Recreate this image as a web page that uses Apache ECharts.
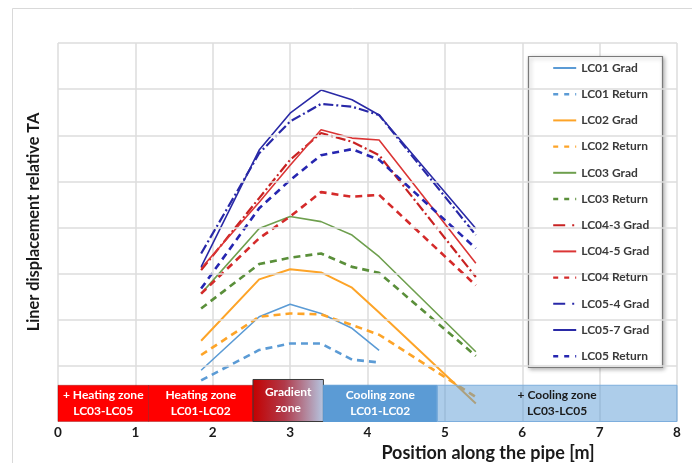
<!DOCTYPE html>
<html>
<head>
<meta charset="utf-8">
<script src="https://cdn.jsdelivr.net/npm/echarts@6/dist/echarts.min.js"></script>
<style>html,body{margin:0;padding:0;background:#fff}#c{width:692px;height:463px}</style>
</head>
<body>
<div id="c"></div>
<script>
// Positions along the pipe [m]
var positions = [1.85, 2.6, 3.0, 3.4, 3.8, 4.15, 5.4];
var xTicks = [0, 1, 2, 3, 4, 5, 6, 7, 8];

var lc01Grad   = [0.91, 2.07, 2.34, 2.14, 1.82, 1.34];
var lc01Return = [0.69, 1.35, 1.49, 1.49, 1.14, 1.08];
var lc02Grad   = [1.55, 2.88, 3.10, 3.03, 2.70, 2.16, 0.19];
var lc02Return = [1.24, 2.07, 2.14, 2.12, 1.89, 1.68, 0.33];
var lc03Grad   = [2.57, 3.98, 4.24, 4.13, 3.84, 3.37, 1.31];
var lc03Return = [2.25, 3.21, 3.35, 3.44, 3.15, 3.02, 1.22];
var lc043Grad  = [3.08, 4.64, 5.47, 6.05, 5.86, 5.57, 2.93];
var lc045Grad  = [3.12, 4.55, 5.35, 6.12, 5.94, 5.90, 3.23];
var lc04Return = [2.57, 3.77, 4.24, 4.77, 4.67, 4.71, 2.75];
var lc054Grad  = [3.44, 5.61, 6.30, 6.68, 6.62, 6.44, 3.84];
var lc057Grad  = [3.15, 5.68, 6.48, 6.98, 6.77, 6.44, 3.98];
var lc05Return = [2.68, 4.42, 5.03, 5.57, 5.70, 5.47, 3.55];

var seriesNames = ['LC01 Grad','LC01 Return','LC02 Grad','LC02 Return','LC03 Grad','LC03 Return',
                   'LC04-3 Grad','LC04-5 Grad','LC04 Return','LC05-4 Grad','LC05-7 Grad','LC05 Return'];

// Zones along the pipe
var zoneStarts = [0, 1.17, 2.52, 3.43, 4.90];
var zoneEnds   = [1.17, 2.52, 3.43, 4.90, 8.0];
var zoneLabels = ['+ Heating zone\nLC03-LC05', 'Heating zone\nLC01-LC02', 'Gradient\nzone',
                  'Cooling zone\nLC01-LC02', '+ Cooling zone\nLC03-LC05'];

var gridLevels = [1, 2, 3, 4, 5, 6, 7, 8];

function pts(vals) { return vals.map(function (v, i) { return [positions[i], v]; }); }

var dashDot = [10, 3, 2, 3];
var dashed = [7, 5];
var styles = [
  {c:'#5B9BD5', w:1.6, t:'solid'},
  {c:'#5B9BD5', w:2.6, t:dashed},
  {c:'#FDA428', w:2.0, t:'solid'},
  {c:'#FDA428', w:2.6, t:dashed},
  {c:'#6E9F4E', w:1.6, t:'solid'},
  {c:'#5A8F3A', w:2.6, t:dashed},
  {c:'#C82222', w:2.2, t:dashDot},
  {c:'#DB3535', w:1.6, t:'solid'},
  {c:'#D42A2A', w:2.6, t:dashed},
  {c:'#2828A8', w:2.2, t:dashDot},
  {c:'#2A2AA6', w:1.6, t:'solid'},
  {c:'#2626B0', w:2.6, t:dashed}
];
var legendDash = [null, [5, 6], null, [5, 6], null, [5, 6], [12, 7, 2, 7], null, [5, 6], [12, 7, 2, 7], null, [5, 6]];
var dataSets = [lc01Grad, lc01Return, lc02Grad, lc02Return, lc03Grad, lc03Return,
                lc043Grad, lc045Grad, lc04Return, lc054Grad, lc057Grad, lc05Return];

var series = [];
series.push({
  type: 'line', data: [], z: 1, silent: true,
  markLine: {
    silent: true, symbol: 'none', label: {show: false},
    lineStyle: {color: '#DCDCDC', width: 1.5, type: 'solid'},
    data: gridLevels.map(function (g) { return {yAxis: g}; })
  }
});
dataSets.forEach(function (d, i) {
  series.push({
    name: seriesNames[i], type: 'line', data: pts(d), symbol: 'none', z: 2,
    lineStyle: {color: styles[i].c, width: styles[i].w, type: styles[i].t},
    itemStyle: {color: styles[i].c}
  });
});

var zoneData = zoneStarts.map(function (s, i) { return [s, zoneEnds[i], i]; });
series.push({
  type: 'custom', z: 5, silent: true,
  data: zoneData,
  renderItem: function (params, api) {
    var i = api.value(2);
    var isGrad = (i === 2);
    var top = isGrad ? 0.71 : 0.585;
    var p0 = api.coord([api.value(0), top]);
    var p1 = api.coord([api.value(1), -0.2]);
    var fill, stroke, lw = 1, txt = '#fff';
    if (i === 0 || i === 1) { fill = '#FF0000'; stroke = 'rgba(120,0,0,0.35)'; }
    else if (i === 2) {
      fill = new echarts.graphic.LinearGradient(0, 0, 1, 0, [
        {offset: 0, color: '#C40000'}, {offset: 0.45, color: '#B03A4A'}, {offset: 1, color: '#B5C7E2'}]);
      stroke = '#3A3A3A';
    }
    else if (i === 3) { fill = '#5B9BD5'; stroke = '#5B9BD5'; }
    else { fill = 'rgba(91,155,213,0.5)'; stroke = '#7DAEDD'; txt = '#1a1a1a'; }
    var x = p0[0], y = p0[1], w = p1[0] - p0[0], h = p1[1] - p0[1];
    return {
      type: 'group',
      children: [
        {type: 'rect', shape: {x: x, y: y, width: w, height: h}, style: {fill: fill, stroke: stroke, lineWidth: lw}},
        {type: 'text', x: x + w / 2, y: y + h / 2,
         style: {text: zoneLabels[i], fill: txt, align: 'center', verticalAlign: 'middle',
                 font: 'bold 12px Lato', lineHeight: 16}}
      ]
    };
  }
});

var legendData = seriesNames.map(function (n, i) {
  return {
    name: n,
    itemStyle: {opacity: 0},
    lineStyle: {color: styles[i].c, width: Math.max(2, styles[i].w - 0.2),
                type: legendDash[i] ? legendDash[i] : 'solid', opacity: 1}
  };
});

var chart = echarts.init(document.getElementById('c'), null, {renderer: 'canvas'});
chart.setOption({
  animation: false,
  backgroundColor: '#fff',
  grid: {left: 58, right: 15, top: 43, bottom: 41.5},
  xAxis: {
    type: 'value', min: xTicks[0], max: xTicks[xTicks.length - 1], interval: 1,
    axisLine: {show: false}, axisTick: {show: false},
    axisLabel: {color: '#1a1a1a', fontFamily: 'Lato', fontWeight: 'bold', fontSize: 13.5, margin: 4,
                showMinLabel: true, showMaxLabel: true},
    splitLine: {show: true, lineStyle: {color: '#DCDCDC', width: 1.5}}
  },
  yAxis: {
    type: 'value', min: -0.2, max: 8,
    axisLine: {show: false}, axisTick: {show: false}, axisLabel: {show: false},
    splitLine: {show: false}
  },
  legend: {
    data: legendData, orient: 'vertical', left: 552, top: 62, padding: 0, z: 20,
    itemWidth: 23, itemHeight: 14, itemGap: 14.2,
    textStyle: {fontFamily: 'Lato', fontWeight: 'bold', fontSize: 12, color: '#3a3a3a'}
  },
  graphic: [
    {type: 'rect', silent: true, z: -10, shape: {x: 12.5, y: 8.5, width: 720, height: 600},
     style: {fill: 'none', stroke: '#D9D9D9', lineWidth: 1}},
    {type: 'rect', silent: true, z: 3, shape: {x: 528.5, y: 56.5, width: 134, height: 311},
     style: {fill: '#fff', stroke: '#7A7A7A', lineWidth: 1.2,
             shadowBlur: 4, shadowColor: 'rgba(0,0,0,0.3)', shadowOffsetX: 1.5, shadowOffsetY: 1.5}},
    {type: 'text', silent: true, x: 34, y: 222, rotation: Math.PI / 2,
     style: {text: 'Liner displacement relative TA', font: 'bold 16.3px Lato', fill: '#1a1a1a',
             align: 'center', verticalAlign: 'middle'}},
    {type: 'text', silent: true, x: 488, y: 453,
     style: {text: 'Position along the pipe [m]', font: 'bold 18px Lato', fill: '#1a1a1a',
             align: 'center', verticalAlign: 'middle'}}
  ],
  series: series
});
</script>
</body>
</html>
